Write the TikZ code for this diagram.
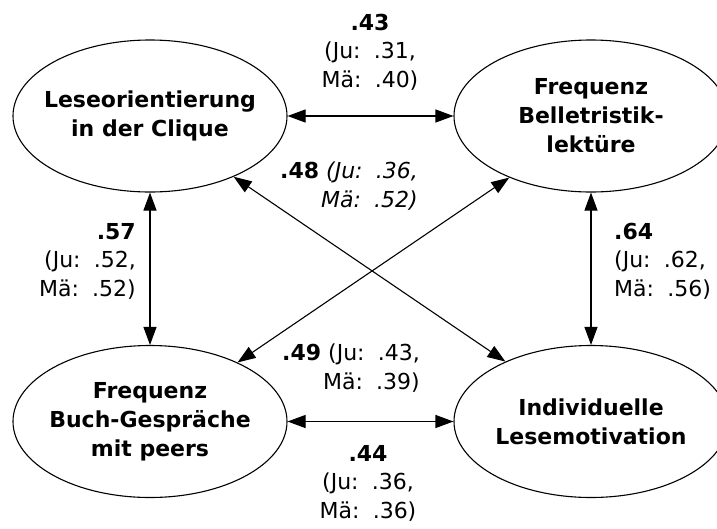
\documentclass[tikz,border=0pt]{standalone}
\usepackage{fontspec}
\setmainfont{DejaVu Sans}
\usetikzlibrary{arrows.meta,shapes.geometric}
\begin{document}
\begin{tikzpicture}[x=1pt,y=-1pt,
  latent/.style={draw, ellipse, line width=1.1pt, minimum width=274pt, minimum height=152pt, inner sep=0pt},
  ltext/.style={inner sep=0pt, align=center, font=\fontsize{22}{29}\selectfont\bfseries},
  lbl/.style={inner sep=0pt, font=\fontsize{22}{28.5}\selectfont},
  conn/.style={{Triangle[length=18pt,width=13pt]}-{Triangle[length=18pt,width=13pt]}, line width=1.1pt}]
\useasboundingbox (0,0) rectangle (717,528);
\clip (0,0) rectangle (717,528);
\node[latent, label={[ltext]center:Leseorientierung\\in der Clique}] (tl) at (150,116) {};
\node[latent, label={[ltext]center:Frequenz\\Belletristik-\\lektüre}] (tr) at (591,116) {};
\node[latent, label={[ltext]center:Frequenz\\Buch-Gespräche\\mit peers}] (bl) at (150,421.5) {};
\node[latent, label={[ltext]center:Individuelle\\Lesemotivation}] (br) at (591,421.5) {};

\draw[conn] (tl.east) -- (tr.west);
\draw[conn] (bl.east) -- (br.west);
\draw[conn] (tl.south) -- (bl.north);
\draw[conn] (tr.south) -- (br.north);
\draw[conn] (tl.-36) -- (br.145);
\draw[conn] (bl.34) -- (tr.217);

\node[lbl, align=center] (l43) at (370,52) {\textbf{.43}\\(Ju:\hspace{0.6em}.31,\\Mä:\hspace{0.6em}.40)};
\node[lbl, align=right, anchor=east] (l48) at (418,186) {\textbf{.48} \textit{(Ju:\hspace{0.6em}.36,}\\\textit{Mä:\hspace{0.6em}.52)}};
\node[lbl, align=right, anchor=east] (l57) at (136,261) {\textbf{.57}\\(Ju:\hspace{0.6em}.52,\\Mä:\hspace{0.6em}.52)};
\node[lbl, align=left, anchor=west] (l64) at (614,261) {\textbf{.64}\\(Ju:\hspace{0.6em}.62,\\Mä:\hspace{0.6em}.56)};
\node[lbl, align=right, anchor=east] (l49) at (420,368) {\textbf{.49} (Ju:\hspace{0.6em}.43,\\Mä:\hspace{0.6em}.39)};
\node[lbl, align=center] (l44) at (368,483) {\textbf{.44}\\(Ju:\hspace{0.6em}.36,\\Mä:\hspace{0.6em}.36)};
\end{tikzpicture}
\end{document}
